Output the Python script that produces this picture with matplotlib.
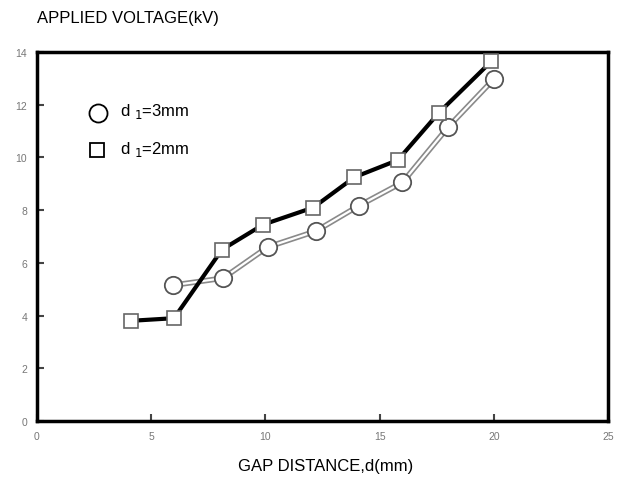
import matplotlib
matplotlib.use("Agg")
import matplotlib.pyplot as plt

plt.rcParams['font.family'] = ['Liberation Sans', 'DejaVu Sans']

# d1 = 2mm (squares, black line)
gap_2mm = [4.1, 6.0, 8.1, 9.9, 12.1, 13.9, 15.8, 17.6, 19.9]
volt_2mm = [3.8, 3.9, 6.5, 7.45, 8.1, 9.25, 9.9, 11.7, 13.65]

# d1 = 3mm (circles, grey outlined line)
gap_3mm = [5.95, 8.15, 10.1, 12.2, 14.1, 16.0, 18.0, 20.0]
volt_3mm = [5.15, 5.42, 6.6, 7.2, 8.17, 9.05, 11.15, 12.97]

xticks = [0, 5, 10, 15, 20, 25]
yticks = [0, 2, 4, 6, 8, 10, 12, 14]

fig = plt.figure(figsize=(6.32, 4.81), dpi=100)
ax = fig.add_axes([0.0585, 0.1227, 0.9035, 0.7671])

# grey double line for the 3mm series
ax.plot(gap_3mm, volt_3mm, color="#8a8a8a", lw=4.0, zorder=2, solid_capstyle="round")
ax.plot(gap_3mm, volt_3mm, color="white", lw=1.6, zorder=3,
        marker="o", ms=12.5, mfc="white", mec="#555555", mew=1.3, clip_on=False)

ax.plot(gap_2mm, volt_2mm, color="black", lw=3.0, zorder=4)
ax.plot(gap_2mm, volt_2mm, ls="none", zorder=5,
        marker="s", ms=10.5, mfc="white", mec="#666666", mew=1.2, clip_on=False)

ax.set_xlim(0, 25)
ax.set_ylim(0, 14)
ax.set_xticks(xticks)
ax.set_yticks(yticks)
ax.tick_params(direction="in", length=5, width=1.5, labelsize=7.5, labelcolor="#777777",
               color="#444444", pad=7)
for s in ax.spines.values():
    s.set_linewidth(2.5)

# legend drawn by hand
ax.plot([2.66], [11.68], marker="o", ms=13, mfc="white", mec="black", mew=1.3, ls="none")
ax.text(3.63, 11.78, r"d $_{1}$=3mm", fontsize=12, va="center", ha="left")
ax.plot([2.62], [10.29], marker="s", ms=10.5, mfc="white", mec="black", mew=1.3, ls="none")
ax.text(3.63, 10.35, r"d $_{1}$=2mm", fontsize=12, va="center", ha="left")

fig.text(0.0585, 0.962, "APPLIED VOLTAGE(kV)", fontsize=12, ha="left", va="center")
fig.text(0.515, 0.031, "GAP DISTANCE,d(mm)", fontsize=12, ha="center", va="center")

fig.savefig("out.png", dpi=100)
